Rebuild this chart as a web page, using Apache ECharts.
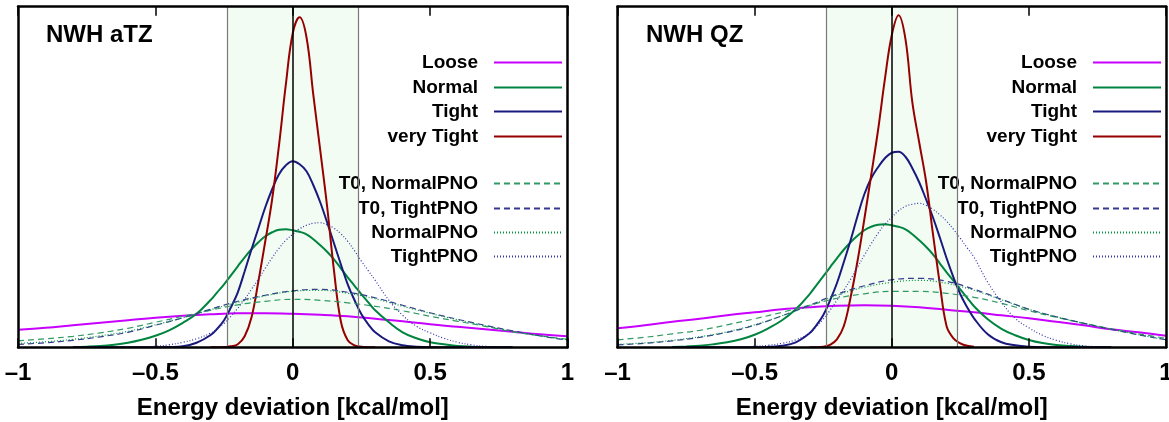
<!DOCTYPE html>
<html><head><meta charset="utf-8">
<script src="https://cdn.jsdelivr.net/npm/echarts/dist/echarts.min.js"></script>
<style>html,body{margin:0;padding:0;background:#fff}#c{width:1169px;height:422px}</style>
</head><body><div id="c"></div>
<script>
// ---------- data (arbitrary density units) ----------
const X_WIDE = [-1,-0.9,-0.8,-0.7,-0.6,-0.5,-0.4,-0.3,-0.2,-0.1,0,0.1,0.2,0.3,0.4,0.5,0.6,0.7,0.8,0.9,1];
const X_MID = [-0.8,-0.75,-0.7,-0.65,-0.6,-0.55,-0.5,-0.45,-0.4,-0.35,
  -0.3,-0.275,-0.25,-0.225,-0.2,-0.175,-0.15,-0.125,-0.1,-0.075,-0.05,-0.025,0,0.025,0.05,0.075,0.1,0.125,0.15,0.175,0.2,0.225,0.25,0.275,0.3,
  0.35,0.4,0.45,0.5,0.55,0.6,0.65,0.7,0.75,0.8];
const X_FINE = [-0.3,-0.275,-0.25,-0.225,-0.2,-0.175,-0.15,-0.125,-0.1,-0.075,-0.05,-0.025,0,0.025,0.05,0.075,0.1,0.125,0.15,0.175,0.2,0.225,0.25,0.275,0.3];

const SERIES_NAMES = ['Loose','Normal','Tight','very Tight','T0, NormalPNO','T0, TightPNO','NormalPNO','TightPNO'];
const PANEL_TITLES = ['NWH aTZ','NWH QZ'];
const X_TICK_VALUES = [-1,-0.5,0,0.5,1];
const X_TICK_LABELS = ['\u20131','\u20130.5','0','0.5','1'];
const X_NAME = 'Energy deviation [kcal/mol]';
const BAND_HALF_WIDTH = 0.239; // 1 kJ/mol in kcal/mol

// NWH aTZ
const aTZ_loose      = [17.5,19.5,22,24.5,27,29.5,31.5,33,34,34,33.5,32.5,31,28.5,26,23,20.5,18,15.5,13,11];
const aTZ_normal     = [0.3,0.6,1.2,2.5,4.5,7.5,11.5,17,24.5,33.5,
  47,55,63,72,81,90,98,105,111,115,117.5,118,117,115.5,113,108,102,95.5,88,79,70,61.5,53,45,37,
  25,15,9,5,3,1.3,0.6,0.3,0.1,0];
const aTZ_tight      = [0,0,0,0,0,0,0,0.3,1,4.5,
  12,18.5,27,40,55,76,98,119,140,158,173,182,186,183,176,162,145,125,104,83,63,47,33,23,15,
  6,2,0.5,0,0,0,0,0,0,0];
const aTZ_veryTight  = [0,0,0.3,1,3,11,30,66,106,148,202,263,314,330,310,252,197,141,77,26,7,2,0.5,0.1,0];
const aTZ_t0Normal   = [6.5,8.5,11,14.5,19,25,31,37,42.5,46,48,47,44.5,41,36.5,31,26,21,15.5,11.5,8];
const aTZ_t0Tight    = [3,4.5,7,10.5,15,22,29.5,38,46,52,56.5,58,55,49.5,42,34.5,28,22,16.5,11.5,7];
const aTZ_normalPNO  = [4,5.5,8,11.5,16,22.5,29.5,37.5,45,51.5,56,57,54,48.5,41,34,27.5,21.5,16,11.5,7.5];
const aTZ_tightPNO   = [0,0,0,0,0,0.3,1,2.5,5,8.5,
  14,18.5,24,31,39,48,58,68,79,89.5,99,107,113,118.5,122,124,124.5,122.5,119,113.5,106,96.5,86,76.5,67,
  47,32,21,14.5,9,5,2.5,1,0.4,0];

// NWH QZ
const QZ_loose       = [19,22,25.5,28.5,32,35,38,40,41.5,42,41.5,40,37.5,35,32,29,25.5,22,18,15,11.5];
const QZ_normal      = [0.3,0.8,1.5,3,5,8,12.5,19,27,38,
  53,62,71,80,89,97.5,105,111.5,117,120.5,122.5,123,122,120.5,118,113,107,100.5,93,84,75,66.5,58,49.5,41,
  28,18.5,12,7.3,4.2,2.3,1.2,0.6,0.3,0.1];
const QZ_tight       = [0,0,0,0,0,0,0,0.5,1.5,5,
  14,22,32,47,64,85,107,131,153,169,180,189,194.5,195.5,190.5,179,165,148,130,110,89,70,53,40,29,
  13,5,2,0.5,0,0,0,0,0,0];
const QZ_veryTight   = [0,0.1,0.5,2.5,8,21,50,86,128,172,217,268,312,332,308,245,205,166,114,64,21,9,4,1.5,0.5];
const QZ_t0Normal    = [7.5,10,13.5,17,22.5,28.5,35,42,49,53.5,56,56,54,50,44,36.5,30,24,18.5,13.5,9];
const QZ_t0Tight     = [2.5,4,6.5,10,15,22,31.5,42,53,61.5,67.5,69,66,58,48,38,30.5,24,18,12.5,7.5];
const QZ_normalPNO   = [3,4.5,7,10.5,15.5,22.5,31.5,41.5,52,60,65,67,64,57,47.5,38,30.5,24,18,12.5,7.5];
const QZ_tightPNO    = [0,0,0,0,0,0.3,1,2,4,7.5,
  14,20.5,28,37,47,57,68,80,92,103.5,114,123,130,136.5,141,143,144,142,138,132.5,126,118,109,99.5,90,
  65,45,29,19.5,12,7,3.5,1.5,0.5,0];

// ---------- styling ----------
const FONT = '"Liberation Sans", Arial, Helvetica, sans-serif';
const Y_MAX = 340.5;
const STYLE = {
  'Loose':         {color:'#c800ff', width:2,   type:'solid'},
  'Normal':        {color:'#00843f', width:2,   type:'solid'},
  'Tight':         {color:'#1a1a7e', width:2,   type:'solid'},
  'very Tight':    {color:'#960000', width:2,   type:'solid'},
  'T0, NormalPNO': {color:'#2f9a64', width:1.2, type:[6,4]},
  'T0, TightPNO':  {color:'#38388f', width:1.2, type:[6,4]},
  'NormalPNO':     {color:'#009644', width:1.2, type:[1,2]},
  'TightPNO':      {color:'#3535a8', width:1.2, type:[1,2]}
};
const PANEL_DATA = [
  {xs:[X_WIDE,X_MID,X_MID,X_FINE,X_WIDE,X_WIDE,X_WIDE,X_MID],
   vs:[aTZ_loose,aTZ_normal,aTZ_tight,aTZ_veryTight,aTZ_t0Normal,aTZ_t0Tight,aTZ_normalPNO,aTZ_tightPNO]},
  {xs:[X_WIDE,X_MID,X_MID,X_FINE,X_WIDE,X_WIDE,X_WIDE,X_MID],
   vs:[QZ_loose,QZ_normal,QZ_tight,QZ_veryTight,QZ_t0Normal,QZ_t0Tight,QZ_normalPNO,QZ_tightPNO]}
];
const LAYOUT = [
  {gridLeft:18, gridWidth:549.5, titleLeft:46, legendRight:606},
  {gridLeft:617.5, gridWidth:548.5, titleLeft:646, legendRight:7}
];
const LEGEND_ROWS = [62, 87, 111, 136, 183, 208, 232, 256];

const grids = [], xAxes = [], yAxes = [], series = [], legends = [], titles = [];
function tickFmt(v){
  const i = X_TICK_VALUES.findIndex(t => Math.abs(t - v) < 1e-9);
  return i >= 0 ? X_TICK_LABELS[i] : '';
}
LAYOUT.forEach((L, p) => {
  grids.push({left:L.gridLeft, width:L.gridWidth, top:6.7, height:340.6, outerBoundsMode:'none', containLabel:false});
  const lineSt = {color:'#000', width:2.5};
  xAxes.push({gridIndex:p, type:'value', min:-1, max:1, interval:0.5, position:'bottom', z:10,
    axisLine:{show:true, onZero:false, lineStyle:lineSt},
    axisTick:{show:true, inside:true, length:9, lineStyle:{color:'#000', width:1.5}},
    axisLabel:{show:true, formatter:tickFmt, fontSize:24, fontWeight:'bold', color:'#000', fontFamily:FONT, margin:14, showMinLabel:true, showMaxLabel:true},
    splitLine:{show:false},
    name:X_NAME, nameLocation:'middle', nameGap:49,
    nameTextStyle:{fontSize:24, fontWeight:'bold', color:'#000', fontFamily:FONT}});
  xAxes.push({gridIndex:p, type:'value', min:-1, max:1, interval:0.5, position:'top', z:10,
    axisLine:{show:true, onZero:false, lineStyle:lineSt},
    axisTick:{show:true, inside:true, length:9, lineStyle:{color:'#000', width:1.5}},
    axisLabel:{show:false}, splitLine:{show:false}});
  yAxes.push({gridIndex:p, type:'value', min:0, max:Y_MAX, position:'left', z:10,
    axisLine:{show:true, onZero:false, lineStyle:lineSt}, axisTick:{show:false}, axisLabel:{show:false}, splitLine:{show:false}});
  yAxes.push({gridIndex:p, type:'value', min:0, max:Y_MAX, position:'right', z:10,
    axisLine:{show:true, onZero:false, lineStyle:lineSt}, axisTick:{show:false}, axisLabel:{show:false}, splitLine:{show:false}});

  // band + reference lines
  series.push({type:'line', xAxisIndex:2*p, yAxisIndex:2*p, data:[[-1,0]], symbol:'none', lineStyle:{opacity:0}, z:1, silent:true,
    markArea:{silent:true, itemStyle:{color:'#f2fcf2'}, data:[[{xAxis:-BAND_HALF_WIDTH},{xAxis:BAND_HALF_WIDTH}]]},
    markLine:{silent:true, symbol:'none', label:{show:false}, animation:false,
      data:[{xAxis:-BAND_HALF_WIDTH, lineStyle:{color:'#7a7a7a', width:1.2, type:'solid'}},
            {xAxis:BAND_HALF_WIDTH, lineStyle:{color:'#7a7a7a', width:1.2, type:'solid'}},
            {xAxis:0, lineStyle:{color:'#000', width:1.5, type:'solid'}}]}});

  const D = PANEL_DATA[p];
  SERIES_NAMES.forEach((name, i) => {
    const s = STYLE[name];
    series.push({name, type:'line', xAxisIndex:2*p, yAxisIndex:2*p,
      data: D.xs[i].map((x, k) => [x, D.vs[i][k]]),
      symbol:'none', showSymbol:false, smooth:0.4, z:3, silent:true,
      lineStyle:{color:s.color, width:s.width, type:s.type}, itemStyle:{color:s.color}});
    legends.push({data:[name], orient:'horizontal', align:'right', right:L.legendRight, top:LEGEND_ROWS[i]-9,
      itemWidth:68, itemHeight:14, padding:0, selectedMode:false,
      itemStyle:{color:'rgba(0,0,0,0)', borderColor:'rgba(0,0,0,0)', borderWidth:0, opacity:0},
      textStyle:{fontSize:19, fontWeight:'bold', color:'#000', fontFamily:FONT, lineHeight:18, padding:[0,11,0,0]}});
  });
  titles.push({text:PANEL_TITLES[p], left:L.titleLeft, top:23, padding:0,
    textStyle:{fontSize:24, fontWeight:'bold', color:'#000', fontFamily:FONT}});
});

const chart = echarts.init(document.getElementById('c'), null, {renderer:'canvas'});
chart.setOption({animation:false, backgroundColor:'#fff', title:titles, legend:legends,
  grid:grids, xAxis:xAxes, yAxis:yAxes, series:series});
</script></body></html>
